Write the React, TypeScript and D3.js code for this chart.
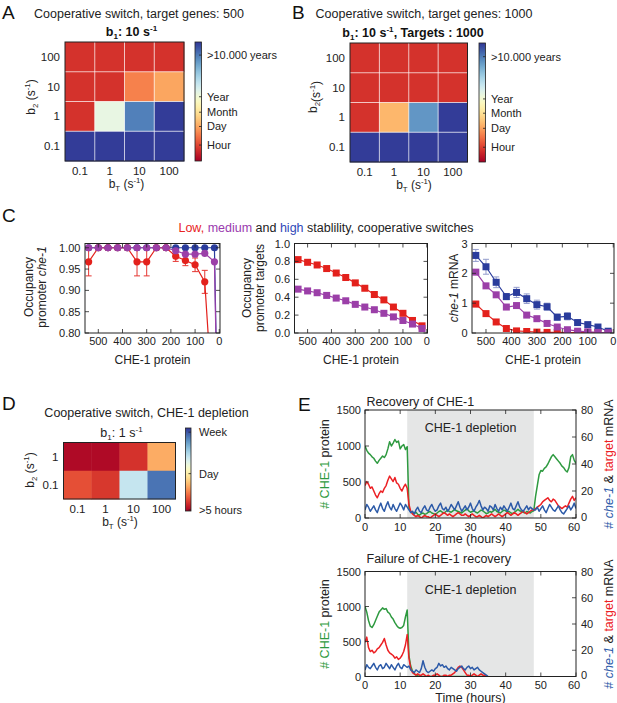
import React from "react";
import * as d3 from "d3";

const FONT = "'Liberation Sans', Arial, Helvetica, sans-serif";

// ---------- Panels A, B, D : stability heatmaps ----------
const bTLabels = ["0.1", "1", "10", "100"];
const b2LabelsAB = ["100", "10", "1", "0.1"];
const stabilityA = [
  [0.1, 0.1, 0.1, 0.1],
  [0.1, 0.1, 0.23, 0.29],
  [0.1, 0.57, 0.88, 0.99],
  [0.99, 0.99, 0.99, 0.99],
];
const stabilityB = [
  [0.1, 0.1, 0.1, 0.1],
  [0.1, 0.1, 0.1, 0.1],
  [0.1, 0.32, 0.84, 0.99],
  [0.99, 0.99, 0.99, 0.99],
];
const cbLabelsAB = [">10.000 years", "Year", "Month", "Day", "Hour"];
const cbLevelsA = [0.89, 0.54, 0.41, 0.29, 0.134];
const cbLevelsB = [0.885, 0.53, 0.41, 0.283, 0.124];

const b2LabelsD = ["1", "0.1"];
const stabilityD = [
  [0.02, 0.02, 0.1, 0.3],
  [0.15, 0.11, 0.65, 0.9],
];
const cbLabelsD = ["Week", "Day", ">5 hours"];
const cbLevelsD = [0.95, 0.45, 0.012];

// ---------- Panel C ----------
const proteinC = [540, 500, 460, 420, 380, 340, 300, 260, 220, 180, 140, 100, 60, 20];
const proteinC1 = [540, 500, 460, 420, 380, 340, 300, 260, 220, 180, 140, 100, 60, 20, 4];
const occChe1Low = [0.967, 1, 1, 1, 1, 0.967, 0.967, 1, 1, 0.98, 0.97, 0.96, 0.92, 0.57];
const occChe1LowErr = [0.033, 0, 0, 0, 0, 0.033, 0.033, 0, 0, 0.012, 0.012, 0.016, 0.027, 0.05];
const occChe1Med = [1, 1, 1, 1, 1, 1, 1, 1, 1, 0.993, 0.985, 0.985, 0.987, 0.967, 0.5];
const occChe1High = [1, 1, 1, 1, 1, 1, 1, 1, 1, 1, 1, 1, 1, 1, 0.5];
const occTargetsLow = [0.82, 0.79, 0.76, 0.72, 0.67, 0.62, 0.56, 0.5, 0.43, 0.37, 0.29, 0.22, 0.14, 0.08];
const occTargetsMed = [0.49, 0.47, 0.45, 0.42, 0.39, 0.36, 0.32, 0.29, 0.26, 0.22, 0.18, 0.14, 0.1, 0.05];
const mrnaLow = [0.97, 0.65, 0.37, 0.15, 0.07, 0.05, 0.03, 0.02, 0.02, 0.01, 0.01, 0.01, 0.01, 0.0];
const mrnaLowErr = [0.09, 0.06, 0.05, 0.04, 0.03, 0.02, 0.02, 0.01, 0.01, 0.01, 0.01, 0.01, 0.01, 0.0];
const mrnaMed = [2.04, 1.58, 1.28, 0.87, 0.92, 0.6, 0.48, 0.32, 0.2, 0.11, 0.06, 0.04, 0.02, 0.01];
const mrnaMedErr = [0.08, 0.07, 0.06, 0.06, 0.06, 0.05, 0.05, 0.04, 0.03, 0.03, 0.02, 0.02, 0.01, 0.01];
const mrnaHigh = [2.6, 2.22, 1.7, 1.22, 1.36, 1.15, 0.95, 0.88, 0.53, 0.56, 0.35, 0.28, 0.2, 0.06];
const mrnaHighErr = [0.2, 0.25, 0.18, 0.1, 0.17, 0.16, 0.15, 0.12, 0.1, 0.12, 0.08, 0.08, 0.07, 0.05];
const proteinTicks = [500, 400, 300, 200, 100, 0];

// ---------- Panel E : time traces, sampled every 0.5 h ----------
const dtHours = 0.5;
const recProtein = [
  1000, 940, 900, 880, 850, 830, 790, 760, 800, 830,
  860, 840, 880, 960, 1060, 1000, 1040, 1090, 1050, 1070,
  960, 1000, 1020, 950, 990,
  140, 90, 70, 60, 80, 50, 40, 60, 70, 50,
  60, 80, 90, 70, 60, 50, 70, 90, 100, 80,
  70, 90, 110, 90, 80, 100, 120, 100, 90, 80,
  70, 90, 110, 130, 100, 80, 90, 100, 80, 70,
  90, 110, 100, 80, 60, 70, 90, 80, 100, 120,
  90, 80, 70, 90, 110, 100, 80, 90, 70, 60,
  80, 100, 120, 100, 90, 80, 70, 90, 80, 70,
  90, 100,
  300, 450, 600, 660, 650, 690, 710, 750, 800, 850,
  880, 850, 820, 790, 760, 720, 700, 660, 640, 700,
  850, 880, 800, 760,
];
const recTarget = [
  24, 27, 25, 22, 23, 20, 17, 15, 18, 20,
  19, 22, 24, 28, 31, 29, 27, 30, 26, 25,
  22, 20, 23, 25, 22,
  10, 5, 3, 2, 1, 2, 1, 0, 1, 2,
  1, 1, 0, 1, 2, 3, 2, 1, 2, 3,
  4, 3, 2, 3, 2, 1, 2, 3, 4, 3,
  2, 2, 3, 2, 1, 2, 3, 2, 1, 1,
  2, 1, 0, 1, 2, 1, 2, 3, 2, 1,
  2, 3, 2, 1, 2, 3, 4, 3, 2, 3,
  4, 3, 2, 3, 4, 5, 4, 3, 4, 5,
  6, 6,
  7, 8, 9, 10, 12, 13, 14, 15, 13, 12,
  14, 13, 11, 9, 8, 7, 8, 9, 8, 11,
  14, 16, 13, 15,
];
const recChe1 = [
  6, 10, 8, 5, 7, 9, 6, 4, 8, 11,
  7, 5, 9, 12, 8, 6, 10, 7, 5, 8,
  11, 9, 6, 10, 8,
  6, 4, 5, 3, 6, 8, 5, 4, 7, 9,
  6, 5, 8, 10, 7, 5, 6, 9, 11, 7,
  6, 8, 5, 7, 10, 8, 6, 9, 12, 8,
  5, 7, 9, 6, 8, 11, 7, 5, 8, 10,
  13, 9, 6, 8, 7, 5, 9, 8, 6, 10,
  7, 5, 8, 6, 9, 7, 5, 8, 11, 7,
  6, 9, 12, 8, 6, 5, 7, 9, 6, 8,
  7, 6,
  6, 8, 5, 7, 9, 6, 4, 7, 10, 8,
  6, 5, 7, 9, 6, 4, 3, 5, 7, 9,
  6, 8, 11, 7,
];
const failProtein = [
  1000, 920, 800, 720, 700, 740, 800, 860, 920, 950,
  980, 960, 970, 920, 900, 850, 820, 770, 730, 700,
  690, 700, 730, 850, 950,
  300, 150, 80, 40, 20, 10, 5, 0, 0, 0,
  0, 0, 0, 0, 0, 0, 0, 0, 0, 0,
  0, 0, 0, 0, 0, 0, 0, 0, 0, 0,
  0, 0, 0, 0, 0, 0, 0, 0, 0, 0,
  0, 0, 0, 0, 0, 0,
];
const failTarget = [
  26, 30, 22, 19, 20, 18, 19, 21, 22, 24,
  26, 29, 24, 20, 18, 17, 16, 14, 15, 13,
  14, 16, 19, 24, 32,
  14, 6, 3, 2, 1, 2, 1, 1, 2, 1,
  0, 1, 0, 0, 1, 1, 2, 1, 0, 0,
  1, 1, 0, 1, 1, 2, 3, 5, 7, 8,
  7, 5, 3, 1, 1, 0, 1, 2, 1, 0,
  1, 2, 1, 1, 0, 0,
];
const failChe1 = [
  5, 9, 7, 6, 8, 10, 7, 5, 8, 9,
  6, 7, 10, 8, 6, 9, 7, 5, 8, 10,
  7, 6, 9, 8, 7,
  8, 5, 4, 3, 5, 4, 3, 6, 12, 7,
  4, 3, 4, 5, 4, 6, 7, 10, 8, 9,
  7, 8, 6, 5, 7, 6, 5, 4, 6, 7,
  8, 6, 5, 7, 8, 6, 7, 5, 6, 7,
  5, 4, 3, 2, 1, 0,
];
const depletionWindow = [12, 48];
const timeTicks = [0, 10, 20, 30, 40, 50, 60];
const proteinAxisTicks = [0, 500, 1000, 1500];
const mrnaAxisTicks = [0, 20, 40, 60, 80];

// ---------- colours ----------
const cRed = "#e3211c";
const cPurple = "#9b3fa8";
const cBlue = "#2a3c9c";
const eGreen = "#2e9a40";
const eRed = "#ec2024";
const eBlue = "#2c5aa8";

function SubSup({ base, sub, sup, space = " ", tail = ")" }: any) {
  return (
    <>
      <tspan>{base}</tspan>
      <tspan fontSize="0.65em" dy={3}>{sub}</tspan>
      <tspan dy={-3}>{space}</tspan>
      <tspan>{"(s"}</tspan>
      <tspan fontSize="0.65em" dy={-5}>{sup}</tspan>
      <tspan dy={5}>{tail}</tspan>
    </>
  );
}

function Heatmap({ x, y, w, h, cells, xLabels, yLabels, grid }: any) {
  const nr = cells.length;
  const nc = cells[0].length;
  const sx = d3.scaleBand<number>().domain(d3.range(nc)).range([x, x + w]);
  const sy = d3.scaleBand<number>().domain(d3.range(nr)).range([y, y + h]);
  return (
    <g>
      {cells.map((row: number[], r: number) =>
        row.map((v: number, c: number) => (
          <rect
            key={`${r}-${c}`}
            x={sx(c)}
            y={sy(r)}
            width={sx.bandwidth() + 0.4}
            height={sy.bandwidth() + 0.4}
            fill={d3.interpolateRdYlBu(v)}
          />
        ))
      )}
      {grid &&
        d3.range(1, nc).map((i) => (
          <line key={"gv" + i} x1={sx(i)} x2={sx(i)} y1={y} y2={y + h} stroke="#fff" strokeOpacity={0.7} strokeWidth={1} />
        ))}
      {grid &&
        d3.range(1, nr).map((i) => (
          <line key={"gh" + i} x1={x} x2={x + w} y1={sy(i)} y2={sy(i)} stroke="#fff" strokeOpacity={0.7} strokeWidth={1} />
        ))}
      <rect x={x} y={y} width={w} height={h} fill="none" stroke="#222" strokeWidth={1} />
      {xLabels.map((l: string, i: number) => (
        <text key={"xl" + i} x={(sx(i) as number) + sx.bandwidth() / 2} y={y + h + 13.5} textAnchor="middle" fontSize={11.5} fill="#222">
          {l}
        </text>
      ))}
      {yLabels.map((l: string, i: number) => (
        <text key={"yl" + i} x={x - 5} y={(sy(i) as number) + sy.bandwidth() / 2 + 4} textAnchor="end" fontSize={11.5} fill="#222">
          {l}
        </text>
      ))}
    </g>
  );
}

function Colorbar({ id, x, y, w, h, labels, levels, lx }: any) {
  const sy = d3.scaleLinear().domain([0, 1]).range([y + h, y]);
  const stops = d3.range(0, 21).map((i) => i / 20);
  return (
    <g>
      <defs>
        <linearGradient id={id} x1="0" y1="1" x2="0" y2="0">
          {stops.map((t) => (
            <stop key={t} offset={t} stopColor={d3.interpolateRdYlBu(t)} />
          ))}
        </linearGradient>
      </defs>
      <rect x={x} y={y} width={w} height={h} fill={`url(#${id})`} stroke="#222" strokeWidth={0.8} />
      {levels.map((v: number, i: number) => (
        <g key={i}>
          <line x1={x + w - 2.5} x2={x + w} y1={sy(v)} y2={sy(v)} stroke="#222" strokeWidth={0.8} />
          <text x={lx} y={sy(v) + 4} fontSize={11} fill="#222">
            {labels[i]}
          </text>
        </g>
      ))}
    </g>
  );
}

function SeriesPanel({ box, xDomain, yDomain, yTicks, yFmt, series, marker, clipId, errOpacity }: any) {
  const sx = d3.scaleLinear().domain(xDomain).range([box.x0, box.x1]);
  const sy = d3.scaleLinear().domain(yDomain).range([box.y1, box.y0]);
  const line = d3
    .line<[number, number]>()
    .x((d) => sx(d[0]))
    .y((d) => sy(d[1]));
  const tl = 4;
  return (
    <g>
      <defs>
        <clipPath id={clipId}>
          <rect x={box.x0} y={box.y0 - 1} width={box.x1 - box.x0} height={box.y1 - box.y0 + 1} />
        </clipPath>
      </defs>
      <g clipPath={`url(#${clipId})`}>
        {series.map((s: any, k: number) => {
          const pts: [number, number][] = s.ys.map((v: number, i: number) => [s.xs[i], v]);
          return (
            <g key={k}>
              <path d={line(pts) as string} fill="none" stroke={s.color} strokeWidth={1.2} />
              {s.err &&
                s.ys.map((v: number, i: number) =>
                  s.err[i] > 0 ? (
                    <g key={"e" + i} stroke={s.color} strokeWidth={1} opacity={errOpacity}>
                      <line x1={sx(s.xs[i])} x2={sx(s.xs[i])} y1={sy(v - s.err[i])} y2={sy(v + s.err[i])} />
                      <line x1={sx(s.xs[i]) - 3} x2={sx(s.xs[i]) + 3} y1={sy(v - s.err[i])} y2={sy(v - s.err[i])} />
                      <line x1={sx(s.xs[i]) - 3} x2={sx(s.xs[i]) + 3} y1={sy(v + s.err[i])} y2={sy(v + s.err[i])} />
                    </g>
                  ) : null
                )}
              {pts.map((p, i) =>
                marker === "circle" ? (
                  <circle key={"m" + i} cx={sx(p[0])} cy={sy(p[1])} r={3.6} fill={s.color} />
                ) : (
                  <rect key={"m" + i} x={sx(p[0]) - 3.5} y={sy(p[1]) - 3.5} width={7} height={7} fill={s.color} />
                )
              )}
            </g>
          );
        })}
      </g>
      <rect x={box.x0} y={box.y0} width={box.x1 - box.x0} height={box.y1 - box.y0} fill="none" stroke="#222" strokeWidth={1} />
      {proteinTicks.map((t) => (
        <g key={"xt" + t} stroke="#222" strokeWidth={0.8}>
          <line x1={sx(t)} x2={sx(t)} y1={box.y1} y2={box.y1 - tl} />
          <line x1={sx(t)} x2={sx(t)} y1={box.y0} y2={box.y0 + tl} />
        </g>
      ))}
      {proteinTicks.map((t) => (
        <text key={"xtl" + t} x={sx(t)} y={box.y1 + 12} textAnchor="middle" fontSize={11} fill="#222">
          {t}
        </text>
      ))}
      {yTicks.map((t: number) => (
        <g key={"yt" + t} stroke="#222" strokeWidth={0.8}>
          <line x1={box.x0} x2={box.x0 + tl} y1={sy(t)} y2={sy(t)} />
          <line x1={box.x1} x2={box.x1 - tl} y1={sy(t)} y2={sy(t)} />
        </g>
      ))}
      {yTicks.map((t: number) => (
        <text key={"ytl" + t} x={box.x0 - 4.5} y={sy(t) + 4} textAnchor="end" fontSize={11} fill="#222">
          {yFmt(t)}
        </text>
      ))}
      <text x={(box.x0 + box.x1) / 2} y={box.y1 + 31} textAnchor="middle" fontSize={12} fill="#222">
        CHE-1 protein
      </text>
    </g>
  );
}

function TracePanel({ box, clipId, protein, target, che1 }: any) {
  const sx = d3.scaleLinear().domain([0, 60]).range([box.x0, box.x1]);
  const syL = d3.scaleLinear().domain([0, 1500]).range([box.y1, box.y0]);
  const syR = d3.scaleLinear().domain([0, 80]).range([box.y1, box.y0]);
  const lineL = d3
    .line<number>()
    .x((_, i) => sx(i * dtHours))
    .y((d) => syL(d));
  const lineR = d3
    .line<number>()
    .x((_, i) => sx(i * dtHours))
    .y((d) => syR(d));
  const tl = 4;
  const cy = (box.y0 + box.y1) / 2;
  return (
    <g>
      <defs>
        <clipPath id={clipId}>
          <rect x={box.x0} y={box.y0} width={box.x1 - box.x0} height={box.y1 - box.y0} />
        </clipPath>
      </defs>
      <rect
        x={sx(depletionWindow[0])}
        y={box.y0}
        width={sx(depletionWindow[1]) - sx(depletionWindow[0])}
        height={box.y1 - box.y0}
        fill="#e5e6e6"
      />
      <text x={(sx(depletionWindow[0]) + sx(depletionWindow[1])) / 2} y={box.y0 + 22} textAnchor="middle" fontSize={12.5} fill="#222">
        CHE-1 depletion
      </text>
      <g clipPath={`url(#${clipId})`} fill="none" strokeWidth={1.5} strokeLinejoin="round">
        <path d={lineL(protein) as string} stroke={eGreen} />
        <path d={lineR(target) as string} stroke={eRed} />
        <path d={lineR(che1) as string} stroke={eBlue} />
      </g>
      <rect x={box.x0} y={box.y0} width={box.x1 - box.x0} height={box.y1 - box.y0} fill="none" stroke="#222" strokeWidth={1} />
      {timeTicks.map((t) => (
        <g key={"tt" + t}>
          <line x1={sx(t)} x2={sx(t)} y1={box.y1} y2={box.y1 - tl} stroke="#222" strokeWidth={0.8} />
          <line x1={sx(t)} x2={sx(t)} y1={box.y0} y2={box.y0 + tl} stroke="#222" strokeWidth={0.8} />
          <text x={sx(t) - (t === 60 ? 2 : 0)} y={box.y1 + 12.5} textAnchor="middle" fontSize={11} fill="#222">
            {t}
          </text>
        </g>
      ))}
      {proteinAxisTicks.map((t) => (
        <g key={"pl" + t}>
          <line x1={box.x0} x2={box.x0 + tl} y1={syL(t)} y2={syL(t)} stroke="#222" strokeWidth={0.8} />
          <text x={box.x0 - 4} y={syL(t) + 4} textAnchor="end" fontSize={11} fill="#222">
            {t}
          </text>
        </g>
      ))}
      {mrnaAxisTicks.map((t) => (
        <g key={"mr" + t}>
          <line x1={box.x1} x2={box.x1 - tl} y1={syR(t)} y2={syR(t)} stroke="#222" strokeWidth={0.8} />
          <text x={box.x1 + 5} y={syR(t) + (t === 0 ? 2.5 : 4)} textAnchor="start" fontSize={11} fill="#222">
            {t}
          </text>
        </g>
      ))}
      <text x={(box.x0 + box.x1) / 2} y={box.y1 + 25} textAnchor="middle" fontSize={12.5} fill="#222">
        Time (hours)
      </text>
      <text transform={`translate(329,${cy}) rotate(-90)`} textAnchor="middle" fontSize={12.5} fill="#222">
        <tspan fill={eGreen}>{"# CHE-1"}</tspan>
        <tspan>{" protein"}</tspan>
      </text>
      <text transform={`translate(613,${cy}) rotate(-90)`} textAnchor="middle" fontSize={12.5} fill="#222">
        <tspan fill={eBlue}>{"# "}</tspan>
        <tspan fill={eBlue} fontStyle="italic">{"che-1"}</tspan>
        <tspan>{" & "}</tspan>
        <tspan fill={eRed}>{"target"}</tspan>
        <tspan>{" mRNA"}</tspan>
      </text>
    </g>
  );
}

export default function App() {
  const boxC1 = { x0: 85, x1: 220, y0: 243.5, y1: 333 };
  const boxC2 = { x0: 294.5, x1: 427.5, y0: 243.5, y1: 333 };
  const boxC3 = { x0: 472, x1: 614, y0: 243.5, y1: 333 };
  const xDom = [555, -3];
  return (
    <svg
      width={617}
      height={703}
      style={{ position: "absolute", left: 0, top: 0, background: "#fff" }}
      fontFamily={FONT}
    >
      <rect x={0} y={0} width={617} height={703} fill="#fff" />
      {/* Panel letters */}
      <text x={2} y={19} fontSize={19} fill="#111">A</text>
      <text x={292} y={19} fontSize={19} fill="#111">B</text>
      <text x={2} y={222} fontSize={19} fill="#111">C</text>
      <text x={2} y={410} fontSize={19} fill="#111">D</text>
      <text x={298} y={411} fontSize={19} fill="#111">E</text>

      {/* Panel A */}
      <text x={139} y={17.5} textAnchor="middle" fontSize={12.5} fill="#222">
        Cooperative switch, target genes: 500
      </text>
      <text x={131.5} y={36} textAnchor="middle" fontSize={12.5} fontWeight="bold" fill="#111">
        <tspan>b</tspan>
        <tspan fontSize="0.65em" dy={3}>1</tspan>
        <tspan dy={-3}>{": 10 s"}</tspan>
        <tspan fontSize="0.65em" dy={-5}>-1</tspan>
      </text>
      <Heatmap x={65} y={42} w={119} h={119} cells={stabilityA} xLabels={bTLabels} yLabels={b2LabelsAB} grid />
      <Colorbar id="cbA" x={195} y={42} w={6.5} h={119} labels={cbLabelsAB} levels={cbLevelsA} lx={207} />
      <text x={126.5} y={188} textAnchor="middle" fontSize={12} fill="#222">
        <SubSup base="b" sub="T" sup="-1" />
      </text>
      <text transform="translate(35,97) rotate(-90)" textAnchor="middle" fontSize={12} fill="#222">
        <SubSup base="b" sub="2" sup="-1" />
      </text>

      {/* Panel B */}
      <text x={424} y={18} textAnchor="middle" fontSize={12.5} fill="#222">
        Cooperative switch, target genes: 1000
      </text>
      <text x={413} y={37} textAnchor="middle" fontSize={12.5} fontWeight="bold" fill="#111">
        <tspan>b</tspan>
        <tspan fontSize="0.65em" dy={3}>1</tspan>
        <tspan dy={-3}>{": 10 s"}</tspan>
        <tspan fontSize="0.65em" dy={-5}>-1</tspan>
        <tspan dy={5}>{", Targets : 1000"}</tspan>
      </text>
      <Heatmap x={350} y={43} w={117.5} h={119} cells={stabilityB} xLabels={bTLabels} yLabels={b2LabelsAB} grid />
      <Colorbar id="cbB" x={479} y={43} w={6.5} h={119} labels={cbLabelsAB} levels={cbLevelsB} lx={491} />
      <text x={414} y={189} textAnchor="middle" fontSize={12} fill="#222">
        <SubSup base="b" sub="T" sup="-1" />
      </text>
      <text transform="translate(317,97) rotate(-90)" textAnchor="middle" fontSize={12} fill="#222">
        <SubSup base="b" sub="2" sup="-1" space="" />
      </text>

      {/* Panel C */}
      <text x={326} y={232} textAnchor="middle" fontSize={12.5} fill="#222">
        <tspan fill="#e8251f">{"Low,"}</tspan>
        <tspan fill="#9a3aae">{" medium"}</tspan>
        <tspan fill="#222">{" and "}</tspan>
        <tspan fill="#2f48b8">{"high"}</tspan>
        <tspan fill="#222">{" stablility, cooperative switches"}</tspan>
      </text>
      <SeriesPanel
        box={boxC1}
        clipId="clipC1"
        xDomain={xDom}
        yDomain={[0.8, 1.01]}
        yTicks={[0.8, 0.85, 0.9, 0.95, 1.0]}
        yFmt={(t: number) => t.toFixed(2)}
        marker="circle"
        errOpacity={0.9}
        series={[
          { xs: proteinC1, ys: occChe1High, color: cBlue },
          { xs: proteinC, ys: occChe1Low, err: occChe1LowErr, color: cRed },
          { xs: proteinC1, ys: occChe1Med, color: cPurple },
        ]}
      />
      <text transform="translate(33,287) rotate(-90)" textAnchor="middle" fontSize={12} fill="#222">
        Occupancy
      </text>
      <text transform="translate(46,287) rotate(-90)" textAnchor="middle" fontSize={12} fill="#222">
        <tspan>{"promoter "}</tspan>
        <tspan fontStyle="italic">{"che-1"}</tspan>
      </text>

      <SeriesPanel
        box={boxC2}
        clipId="clipC2"
        xDomain={xDom}
        yDomain={[0, 1]}
        yTicks={[0, 0.2, 0.4, 0.6, 0.8, 1.0]}
        yFmt={(t: number) => t.toFixed(1)}
        marker="square"
        errOpacity={0.5}
        series={[
          { xs: proteinC, ys: occTargetsLow, color: cRed },
          { xs: proteinC, ys: occTargetsMed, color: cPurple },
        ]}
      />
      <text transform="translate(251,288) rotate(-90)" textAnchor="middle" fontSize={12} fill="#222">
        Occupancy
      </text>
      <text transform="translate(263.5,288) rotate(-90)" textAnchor="middle" fontSize={12} fill="#222">
        promoter targets
      </text>

      <SeriesPanel
        box={boxC3}
        clipId="clipC3"
        xDomain={xDom}
        yDomain={[0, 3]}
        yTicks={[0, 1, 2, 3]}
        yFmt={(t: number) => String(t)}
        marker="square"
        errOpacity={0.5}
        series={[
          { xs: proteinC, ys: mrnaLow, err: mrnaLowErr, color: cRed },
          { xs: proteinC, ys: mrnaHigh, err: mrnaHighErr, color: cBlue },
          { xs: proteinC, ys: mrnaMed, err: mrnaMedErr, color: cPurple },
        ]}
      />
      <text transform="translate(458,288) rotate(-90)" textAnchor="middle" fontSize={12} fill="#222">
        <tspan fontStyle="italic">{"che-1"}</tspan>
        <tspan>{" mRNA"}</tspan>
      </text>

      {/* Panel D */}
      <text x={146.5} y={417} textAnchor="middle" fontSize={12.5} fill="#222">
        Cooperative switch, CHE-1 depletion
      </text>
      <text x={121.5} y={437} textAnchor="middle" fontSize={12.5} fill="#222">
        <tspan>b</tspan>
        <tspan fontSize="0.65em" dy={3}>1</tspan>
        <tspan dy={-3}>{": 1 s"}</tspan>
        <tspan fontSize="0.65em" dy={-5}>-1</tspan>
      </text>
      <Heatmap x={63.5} y={442.5} w={112} h={56.5} cells={stabilityD} xLabels={bTLabels} yLabels={b2LabelsD} grid={false} />
      <Colorbar id="cbD" x={185.5} y={428} w={5.5} h={83} labels={cbLabelsD} levels={cbLevelsD} lx={199} />
      <text x={120} y={526} textAnchor="middle" fontSize={12} fill="#222">
        <SubSup base="b" sub="T" sup="-1" />
      </text>
      <text transform="translate(34,470) rotate(-90)" textAnchor="middle" fontSize={12} fill="#222">
        <SubSup base="b" sub="2" sup="-1" />
      </text>

      {/* Panel E */}
      <text x={366.5} y={406} fontSize={12.5} fill="#222">
        Recovery of CHE-1
      </text>
      <TracePanel
        box={{ x0: 365, x1: 576, y0: 410, y1: 518 }}
        clipId="clipE1"
        protein={recProtein}
        target={recTarget}
        che1={recChe1}
      />
      <text x={366.5} y={563} fontSize={12.5} fill="#222">
        Failure of CHE-1 recovery
      </text>
      <TracePanel
        box={{ x0: 365, x1: 576, y0: 571.5, y1: 676.5 }}
        clipId="clipE2"
        protein={failProtein}
        target={failTarget}
        che1={failChe1}
      />
    </svg>
  );
}
